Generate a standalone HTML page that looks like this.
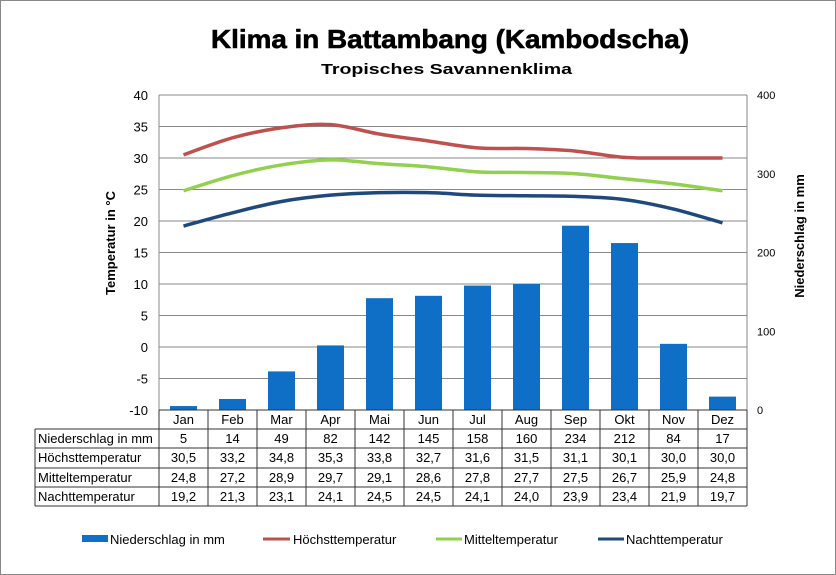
<!DOCTYPE html>
<html><head><meta charset="utf-8"><style>
body{margin:0;background:#fff}
svg{display:block;font-family:"Liberation Sans",Arial,sans-serif}
</style></head><body>
<svg id="s" width="836" height="575" viewBox="0 0 836 575" xmlns="http://www.w3.org/2000/svg">
<rect x="0.5" y="0.5" width="835" height="574" fill="#fff" stroke="#888"/>
<text x="211" y="48" font-size="26" font-weight="bold" textLength="478" lengthAdjust="spacingAndGlyphs" stroke="#000" stroke-width="0.6">Klima in Battambang (Kambodscha)</text>
<text x="321" y="74" font-size="15" font-weight="bold" textLength="251" lengthAdjust="spacingAndGlyphs">Tropisches Savannenklima</text>
<g id="grid"></g>
<text transform="translate(115,243) rotate(-90)" text-anchor="middle" font-size="13" font-weight="bold">Temperatur in °C</text>
<text transform="translate(804,236) rotate(-90)" text-anchor="middle" font-size="13" font-weight="bold">Niederschlag in mm</text>
<g id="g"></g>
<g font-size="13">
<rect x="82" y="535" width="26" height="7" fill="#0f6fc6"/><text x="110" y="544">Niederschlag in mm</text>
<line x1="263" y1="539" x2="290" y2="539" stroke="#c0504d" stroke-width="3"/><text x="293" y="544">Höchsttemperatur</text>
<line x1="436" y1="539" x2="462" y2="539" stroke="#92d050" stroke-width="3"/><text x="464" y="544">Mitteltemperatur</text>
<line x1="598" y1="539" x2="624" y2="539" stroke="#1f497d" stroke-width="3"/><text x="626" y="544">Nachttemperatur</text>
</g>
</svg>
<script>
var NS="http://www.w3.org/2000/svg",g=document.getElementById('g'),gr=document.getElementById('grid');
function el(t,a,p,tx){var e=document.createElementNS(NS,t);for(var k in a)e.setAttribute(k,a[k]);if(tx!==undefined)e.textContent=tx;(p||g).appendChild(e);return e;}
var L=159,W=49,R=L+12*W,T0=95,B0=410;
for(var i=0;i<=10;i++){var y=T0+i*31.5;el('line',{x1:L,x2:R,y1:y,y2:y,stroke:'#888','stroke-width':1},gr);
el('text',{x:148,y:y+5,'text-anchor':'end','font-size':13},gr,String(40-5*i));}
for(var i=0;i<=4;i++){var y=B0-i*78.75;el('text',{x:757,y:y+4,'font-size':11},gr,String(i*100));}
el('line',{x1:L,x2:L,y1:T0,y2:B0,stroke:'#888'},gr);el('line',{x1:R,x2:R,y1:T0,y2:B0,stroke:'#888'},gr);
var m=['Jan','Feb','Mar','Apr','Mai','Jun','Jul','Aug','Sep','Okt','Nov','Dez'];
var p=[5,14,49,82,142,145,158,160,234,212,84,17];
var hi=[30.5,33.2,34.8,35.3,33.8,32.7,31.6,31.5,31.1,30.1,30.0,30.0];
var mi=[24.8,27.2,28.9,29.7,29.1,28.6,27.8,27.7,27.5,26.7,25.9,24.8];
var lo=[19.2,21.3,23.1,24.1,24.5,24.5,24.1,24.0,23.9,23.4,21.9,19.7];
for(var i=0;i<12;i++){var cx=L+W*i+W/2,h=p[i]*0.7875;el('rect',{x:cx-13.5,y:B0-h,width:27,height:h,fill:'#0f6fc6'});}
function path(d,c){var pts=d.map(function(v,i){return [L+W*i+W/2,B0-(v+10)*6.3];});
var s='M'+pts[0];for(var i=0;i<pts.length-1;i++){var p0=pts[i-1]||pts[i],p1=pts[i],p2=pts[i+1],p3=pts[i+2]||p2;
var c1=[p1[0]+(p2[0]-p0[0])/6,p1[1]+(p2[1]-p0[1])/6],c2=[p2[0]-(p3[0]-p1[0])/6,p2[1]-(p3[1]-p1[1])/6];s+=' C'+c1+' '+c2+' '+p2;}
el('path',{d:s,fill:'none',stroke:c,'stroke-width':3.5});}
path(hi,'#c0504d');path(mi,'#92d050');path(lo,'#1f497d');
var rows=[410,429,448,468,487,506],lab=['Niederschlag in mm','Höchsttemperatur','Mitteltemperatur','Nachttemperatur'];
var f=function(v){return v.toFixed(1).replace('.',',');};
var data=[p.map(String),hi.map(f),mi.map(f),lo.map(f)];
var st={stroke:'#333','stroke-width':1};
el('line',Object.assign({x1:L,x2:R,y1:410,y2:410},st));
for(var r=1;r<6;r++)el('line',Object.assign({x1:35,x2:R,y1:rows[r],y2:rows[r]},st));
el('line',Object.assign({x1:35,x2:35,y1:429,y2:506},st));
for(var c=0;c<=12;c++)el('line',Object.assign({x1:L+W*c,x2:L+W*c,y1:410,y2:506},st));
for(var c=0;c<12;c++)el('text',{x:L+W*c+W/2,y:424,'text-anchor':'middle','font-size':13},g,m[c]);
for(var r=0;r<4;r++){var y=rows[r+1]+14;el('text',{x:38,y:y,'font-size':13},g,lab[r]);
for(var c=0;c<12;c++)el('text',{x:L+W*c+W/2,y:y,'text-anchor':'middle','font-size':13},g,data[r][c]);}
</script>
</body></html>
